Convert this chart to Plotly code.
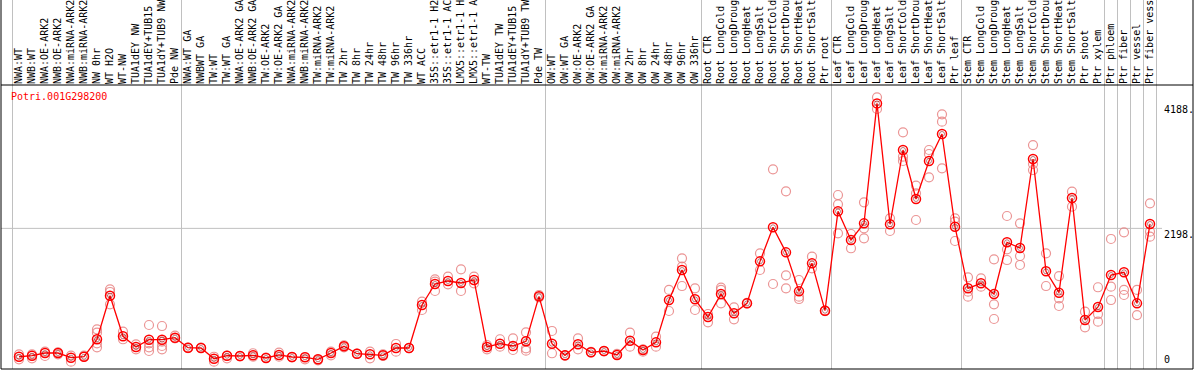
import plotly.graph_objects as go

categories = [
    "NWA:WT", "NWB:WT", "NWA:OE-ARK2", "NWB:OE-ARK2", "NWA:miRNA-ARK2", "NWB:miRNA-ARK2",
    "NW 0hr", "WT H2O", "WT-NW", "TUA1dEY NW", "TUA1dEY+TUB15 NW", "TUA1dY+TUB9 NW", "Pde NW",
    "NWA:WT GA", "NWBWT GA", "TW:WT", "TW:WT GA", "NWA:OE-ARK2 GA", "NWB:OE-ARK2 GA",
    "TW:OE-ARK2", "TW:OE-ARK2 GA", "NWA:miRNA-ARK2", "NWB:miRNA-ARK2", "TW:miRNA-ARK2",
    "TW:miRNA-ARK2", "TW 2hr", "TW 8hr", "TW 24hr", "TW 48hr", "TW 96hr", "TW 336hr", "WT ACC",
    "35S::etr1-1 H2O", "35S::etr1-1 ACC", "LMX5::etr1-1 H2O", "LMX5::etr1-1 ACC", "WT-TW",
    "TUA1dEY TW", "TUA1dEY+TUB15 TW", "TUA1dY+TUB9 TW", "Pde TW",
    "OW:WT", "OW:WT GA", "OW:OE-ARK2", "OW:OE-ARK2 GA", "OW:miRNA-ARK2", "OW:miRNA-ARK2",
    "OW 2hr", "OW 8hr", "OW 24hr", "OW 48hr", "OW 96hr", "OW 336hr",
    "Root CTR", "Root LongCold", "Root LongDrought", "Root LongHeat", "Root LongSalt",
    "Root ShortCold", "Root ShortDrought", "Root ShortHeat", "Root ShortSalt", "Ptr root",
    "Leaf CTR", "Leaf LongCold", "Leaf LongDrought", "Leaf LongHeat", "Leaf LongSalt",
    "Leaf ShortCold", "Leaf ShortDrought", "Leaf ShortHeat", "Leaf ShortSalt", "Ptr leaf",
    "Stem CTR", "Stem LongCold", "Stem LongDrought", "Stem LongHeat", "Stem LongSalt",
    "Stem ShortCold", "Stem ShortDrought", "Stem ShortHeat", "Stem ShortSalt", "Ptr shoot",
    "Ptr xylem", "Ptr phloem", "Ptr fiber", "Ptr vessel", "Ptr fiber vessel",
]

means = [
    154, 170, 213, 213, 139, 154, 432, 1126, 479, 309, 425, 425, 457,
    298, 293, 123, 170, 166, 177, 134, 182, 150, 145, 113, 213, 320, 202, 193, 177, 293, 293,
    978, 1312, 1360, 1328, 1376, 309, 361, 325, 400, 1116,
    361, 177, 352, 224, 245, 182, 409, 261, 383, 1057, 1535, 1068,
    787, 1153, 845, 1004, 1673, 2215, 1816, 1195, 1641, 887,
    2469, 2013, 2278, 4188, 2263, 3446, 2666, 3271, 3701, 2225,
    1244, 1323, 1153, 1976, 1885, 3303, 1514, 1174, 2682, 739,
    946, 1455, 1498, 1004, 2268,
]

replicates = [
    [193, 113], [193, 129], [234, 166], [224, 193], [170, 75], [154, 170],
    [591, 537, 368, 304], [1228, 1185, 989], [553, 432], [352, 272],
    [659, 368, 304, 245], [643, 393, 325, 272], [489, 447],
    [298, 290], [293, 300], [154, 75], [170, 129], [166, 160], [209, 154], [134, 140],
    [218, 154], [150, 145], [150, 113], [113, 97], [234, 177], [336, 304], [202, 198],
    [235, 129], [193, 166], [357, 235], [293, 290],
    [1031, 898], [1387, 1349, 1201], [1428, 1307], [1546, 1201], [1428, 1323],
    [341, 272], [432, 314], [447, 261], [543, 288, 250], [1137, 1100],
    [564, 209], [177, 170], [447, 272], [224, 230], [245, 240], [182, 198],
    [537, 314], [272, 234], [473, 314], [1217, 882], [1721, 1588, 1280], [1244, 898],
    [834, 702], [1253, 1217, 1004], [941, 750], [1004, 1010], [1801, 1535],
    [3138, 1312], [2788, 1450, 1244], [1376, 1110, 1073], [1747, 1562], [887, 880],
    [2729, 2581, 2119], [2108, 1881], [2613, 2199, 2040], [4285, 4099],
    [2358, 2156], [3728, 3339, 3271], [2877, 2756, 2331], [3446, 3382, 3011],
    [4014, 3897, 3154], [2358, 2304, 1997],
    [1419, 1190, 1110], [1403, 1269], [1705, 989, 755], [2395, 1865, 1694],
    [2279, 1758, 1615], [3525, 3223, 3127], [1801, 1280], [1439, 1084, 962],
    [2782, 2543], [871, 623],
    [1260, 834, 712], [2029, 1269, 1057], [2135, 1217, 1137], [1217, 818],
    [2597, 2145, 2065],
]

group_bounds = [0.5, 13.5, 41.5, 53.5, 63.5, 73.5, 84.5, 85.5, 86.5, 87.5, 88.5]
axis_labels = [4188, 2198, 0]
gene_id = "Potri.001G298200"

W, H = 1194, 370
ML, MR, MT, MB = 1, 1, 85, 1
PW = W - ML - MR
PH = H - MT - MB
first_px, step_px = 19, 13
y_zero_px, px_per_unit = 366.4, 0.0628

x = list(range(1, len(categories) + 1))
x_lo = 1 + (ML - first_px) / step_px
x_hi = 1 + (W - MR - first_px) / step_px
y_lo = (y_zero_px - (H - MB)) / px_per_unit
y_hi = (y_zero_px - MT) / px_per_unit

MONO = "DejaVu Sans Mono"

rx, ry = [], []
for xi, reps in zip(x, replicates):
    for r in reps:
        rx.append(xi)
        ry.append(r)

fig = go.Figure()
fig.add_trace(go.Scatter(
    x=rx, y=ry, mode="markers",
    marker=dict(symbol="circle-open", size=9, color="rgba(232,130,130,0.85)", line=dict(width=1.2)),
    hoverinfo="skip", showlegend=False, cliponaxis=False,
))
fig.add_trace(go.Scatter(
    x=x, y=means, mode="lines+markers",
    line=dict(color="#ff0000", width=1.3),
    marker=dict(symbol="circle-open", size=9, color="#ff0000", line=dict(width=1.5)),
    hoverinfo="skip", showlegend=False, cliponaxis=False,
))
fig.add_trace(go.Scatter(
    x=x, y=means, mode="markers",
    marker=dict(symbol="circle-open", size=5, color="rgba(120,0,0,0.5)", line=dict(width=1)),
    hoverinfo="skip", showlegend=False, cliponaxis=False,
))

shapes = []
for b in group_bounds:
    shapes.append(dict(type="line", xref="x", yref="paper", x0=b, x1=b, y0=0, y1=1.35,
                       line=dict(color="#c0c0c0", width=1), layer="below"))
grid_end = (1162 - ML) / PW
shapes.append(dict(type="line", xref="paper", yref="y", x0=0, x1=grid_end,
                   y0=axis_labels[1], y1=axis_labels[1],
                   line=dict(color="#c0c0c0", width=1), layer="below"))
# frame
shapes.append(dict(type="line", xref="paper", yref="paper", x0=0, x1=1, y0=1, y1=1,
                   line=dict(color="black", width=1)))
shapes.append(dict(type="line", xref="paper", yref="paper", x0=0, x1=1, y0=0, y1=0,
                   line=dict(color="black", width=1)))
shapes.append(dict(type="line", xref="paper", yref="paper", x0=0, x1=0, y0=0, y1=1.35,
                   line=dict(color="black", width=1)))
shapes.append(dict(type="line", xref="paper", yref="paper", x0=1, x1=1, y0=0, y1=1.35,
                   line=dict(color="black", width=1)))

lab_x = (1163 - ML) / PW
annotations = [
    dict(text=str(axis_labels[0]) + ".", xref="paper", yref="y", x=lab_x, y=axis_labels[0],
         xanchor="left", yanchor="top", showarrow=False, borderpad=0,
         font=dict(family=MONO, size=10, color="black")),
    dict(text=str(axis_labels[1]) + ".", xref="paper", yref="y", x=lab_x, y=axis_labels[1],
         xanchor="left", yanchor="top", showarrow=False, borderpad=0,
         font=dict(family=MONO, size=10, color="black")),
    dict(text=str(axis_labels[2]), xref="paper", yref="y", x=lab_x, y=axis_labels[2],
         xanchor="left", yanchor="bottom", showarrow=False, borderpad=0,
         font=dict(family=MONO, size=10, color="black")),
    dict(text=gene_id, xref="paper", yref="paper", x=(10 - ML) / PW, y=(H - MB - 96.7) / PH,
         xanchor="left", yanchor="middle", showarrow=False, borderpad=0,
         font=dict(family=MONO, size=10, color="#ff0000")),
]

fig.update_layout(
    width=W, height=H,
    margin=dict(l=ML, r=MR, t=MT, b=MB, pad=0),
    paper_bgcolor="white", plot_bgcolor="white",
    showlegend=False, hovermode=False,
    xaxis=dict(range=[x_lo, x_hi], tickvals=x, ticktext=categories, side="top",
               tickangle=-90, ticks="", showgrid=False, zeroline=False, showline=False,
               automargin=False, tickfont=dict(family=MONO, size=10, color="black")),
    yaxis=dict(range=[y_lo, y_hi], showticklabels=False, showgrid=False, zeroline=False,
               showline=False, automargin=False),
    shapes=shapes, annotations=annotations,
)

fig.write_html(
    "out.html",
    config={"displayModeBar": False, "staticPlot": True},
    post_script="document.body.style.margin='0';document.body.style.overflow='hidden';",
)
